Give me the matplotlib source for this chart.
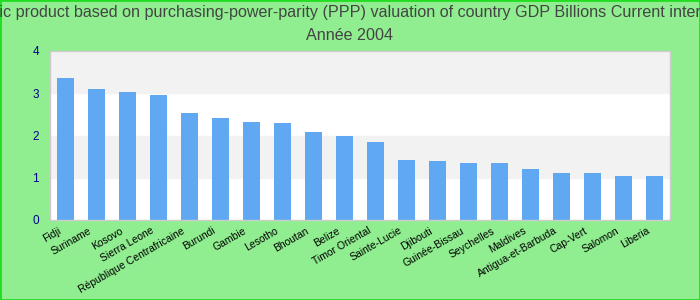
import matplotlib
matplotlib.use('Agg')
import matplotlib.pyplot as plt
from matplotlib.patches import Rectangle
from matplotlib.transforms import ScaledTranslation

plt.rcParams['font.family'] = ['Liberation Sans', 'DejaVu Sans']

countries = ['Fidji', 'Suriname', 'Kosovo', 'Sierra Leone', 'République Centrafricaine',
             'Burundi', 'Gambie', 'Lesotho', 'Bhoutan', 'Belize', 'Timor Oriental',
             'Sainte-Lucie', 'Djibouti', 'Guinée-Bissau', 'Seychelles', 'Maldives',
             'Antigua-et-Barbuda', 'Cap-Vert', 'Salomon', 'Liberia']
gdp = [3.37, 3.11, 3.02, 2.97, 2.54, 2.42, 2.33, 2.30, 2.09, 2.00, 1.85,
       1.42, 1.40, 1.35, 1.35, 1.21, 1.12, 1.12, 1.05, 1.05]
y_ticks = [0, 1, 2, 3, 4]

title = ('Gross domestic product based on purchasing-power-parity (PPP) valuation '
         'of country GDP Billions Current international dollar')
subtitle = 'Année 2004'

fig = plt.figure(figsize=(7, 3), dpi=100, facecolor='#90ee90')
ax = fig.add_axes([50 / 700, 80 / 300, 620 / 700, 169 / 300])
ax.set_facecolor('white')

# alternating horizontal bands
for i in range(len(y_ticks) - 1):
    if i % 2 == 1:
        ax.axhspan(y_ticks[i], y_ticks[i + 1], color='#f2f2f2', zorder=0)

x = range(len(countries))
ax.bar(x, gdp, width=0.55, color='#60a9f2', zorder=2)

ax.set_xlim(-0.5, len(countries) - 0.5)
ax.set_ylim(0, 4)
ax.set_yticks(y_ticks)
ax.tick_params(axis='y', length=0, pad=8, labelsize=8.5, labelcolor='#00008b')
ax.set_xticks(list(x))
ax.set_xticklabels(countries, rotation=30, ha='right', rotation_mode='anchor', fontsize=7.5)
ax.tick_params(axis='x', length=0, pad=4)

# nudge the rotated labels left, like the original
shift = ScaledTranslation(-8 / 100, 0, fig.dpi_scale_trans)
for lbl in ax.get_xticklabels():
    lbl.set_transform(lbl.get_transform() + shift)

for s in ax.spines.values():
    s.set_color('#cccccc')
    s.set_linewidth(1)

fig.text(0.5, 1 - 13 / 300, title, ha='center', va='center', fontsize=11.6, color='#444444')
fig.text(0.5, 1 - 35 / 300, subtitle, ha='center', va='center', fontsize=11.6, color='#444444')

fig.patches.append(Rectangle((0, 0), 1, 1, transform=fig.transFigure, fill=False,
                             edgecolor='#22dd22', linewidth=2))

fig.savefig('out.png', dpi=100, facecolor=fig.get_facecolor())
